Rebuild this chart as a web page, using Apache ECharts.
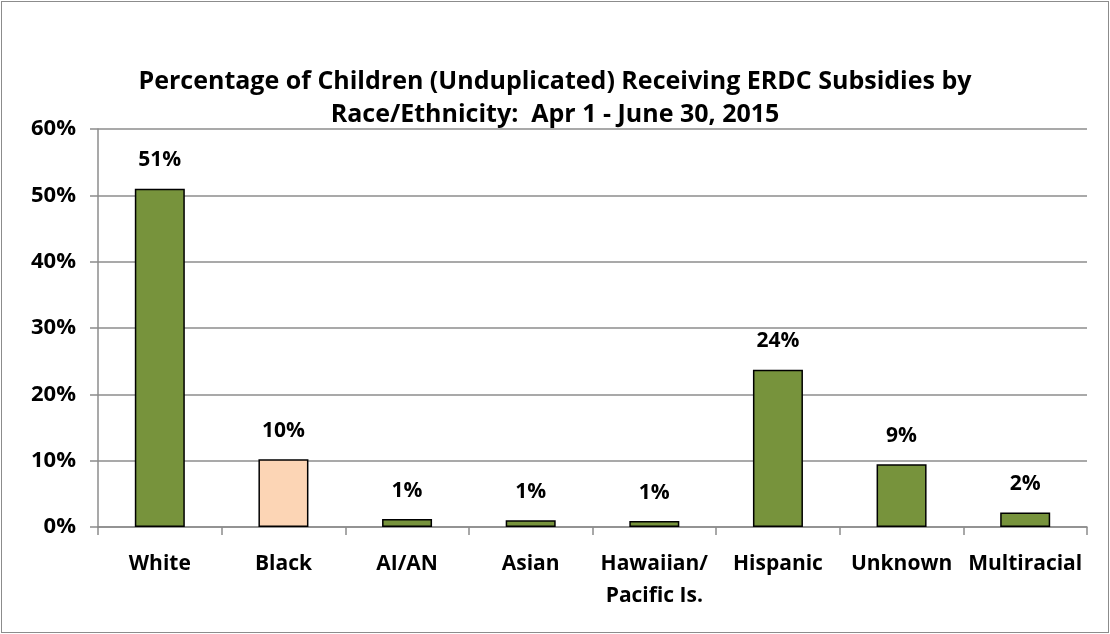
<!DOCTYPE html>
<html><head><meta charset="utf-8">
<script src="https://cdn.jsdelivr.net/npm/echarts@6/dist/echarts.min.js"></script>
<style>html,body{margin:0;padding:0;background:#fff}#c{position:absolute;left:0;top:0;width:1110px;height:634px}#b{position:absolute;left:1px;top:1px;width:1106px;height:630px;border:1px solid #8c8c8c;pointer-events:none}</style>
</head><body><div id="c"></div><div id="b"></div>
<script>
const categories = ['White','Black','AI/AN','Asian','Hawaiian/\nPacific Is.','Hispanic','Unknown','Multiracial'];
const values = [51.0, 10.2, 1.2, 1.0, 0.9, 23.7, 9.45, 2.2];
const highlightIndex = 1;
const yTicks = [0,10,20,30,40,50,60];

const FONT = '"Open Sans", "Noto Sans", sans-serif';
const chart = echarts.init(document.getElementById('c'));
chart.setOption({
  animation:false,
  title:{text:'Percentage of Children (Unduplicated) Receiving ERDC Subsidies by\nRace/Ethnicity:  Apr 1 - June 30, 2015',left:'center',top:60,
    textStyle:{fontFamily:FONT,fontWeight:'bold',fontSize:25,lineHeight:33,color:'#000'}},
  grid:{left:98,right:23,top:129,bottom:107,containLabel:false},
  xAxis:{type:'category',data:categories,
    axisLine:{lineStyle:{color:'#8c8c8c',width:1.5}},
    axisTick:{show:true,length:8,lineStyle:{color:'#8c8c8c',width:1.5}},
    axisLabel:{fontFamily:FONT,fontWeight:'bold',fontSize:21,color:'#000',margin:21,lineHeight:32,interval:0}},
  yAxis:{type:'value',min:0,max:60,interval:10,
    axisLine:{show:true,lineStyle:{color:'#8c8c8c',width:1.5}},
    axisTick:{show:true,length:8,lineStyle:{color:'#8c8c8c',width:1.5}},
    splitLine:{lineStyle:{color:'#8c8c8c',width:1.5}},
    axisLabel:{fontFamily:FONT,fontWeight:'bold',fontSize:22,color:'#000',margin:22,formatter:v=>v+'%'}},
  series:[{type:'bar',barWidth:50,
    data:values.map((v,i)=>({value:v,itemStyle:{color:i===highlightIndex?'#FCD5B5':'#77933C'}})),
    itemStyle:{borderColor:'#000',borderWidth:1.5},
    label:{show:true,position:'top',distance:18,fontFamily:FONT,fontWeight:'bold',fontSize:21,color:'#000',formatter:p=>Math.round(p.value)+'%'}}]
});
</script></body></html>
